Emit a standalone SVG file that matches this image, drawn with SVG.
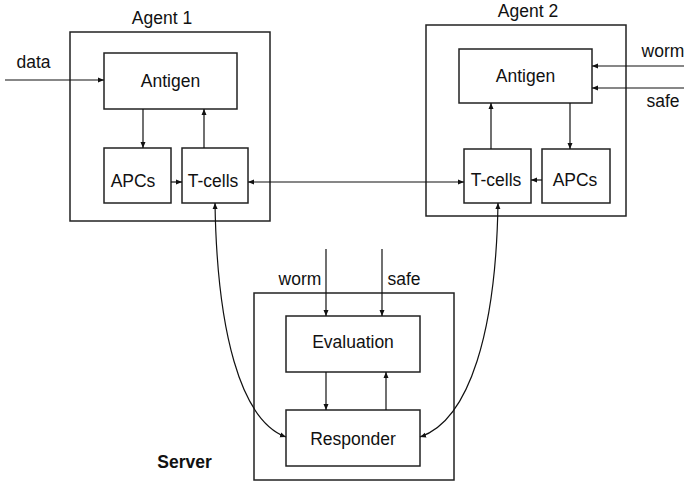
<svg xmlns="http://www.w3.org/2000/svg" width="684" height="482" viewBox="0 0 684 482">
<style>
.box{fill:#fff;stroke:#222;stroke-width:1.5}
.outer{fill:none;stroke:#222;stroke-width:1.5}
.t{font-family:"Liberation Sans",Arial,sans-serif;font-size:17.5px;fill:#111;text-anchor:middle}
.b{font-weight:bold}
.c{fill:none;stroke:#111;stroke-width:1.2}
</style>
<defs>
<marker id="ah" viewBox="0 0 6 6" refX="6" refY="3" markerWidth="6" markerHeight="6" markerUnits="userSpaceOnUse" orient="auto-start-reverse">
<path d="M0,0.5 L6,3 L0,5.5 Z" fill="#111"/>
</marker>
</defs>
<g id="agent1">
<rect class="outer" x="70" y="32" width="200" height="189"/>
<text class="t" x="162" y="24">Agent 1</text>
</g>
<g id="antigen1"><rect class="box" x="104" y="53" width="133" height="56"/><text class="t" x="170.5" y="87">Antigen</text></g>
<g id="apcs1"><rect class="box" x="104" y="148" width="67" height="55"/><text class="t" x="133" y="187">APCs</text></g>
<g id="tcells1"><rect class="box" x="182" y="148" width="66" height="55"/><text class="t" x="213" y="187">T-cells</text></g>
<g id="agent2">
<rect class="outer" x="426" y="25" width="200" height="191"/>
<text class="t" x="528" y="17">Agent 2</text>
</g>
<g id="antigen2"><rect class="box" x="459" y="49" width="133" height="54"/><text class="t" x="525.5" y="82">Antigen</text></g>
<g id="tcells2"><rect class="box" x="464" y="149" width="67" height="54"/><text class="t" x="496" y="186">T-cells</text></g>
<g id="apcs2"><rect class="box" x="542" y="149" width="68" height="54"/><text class="t" x="575" y="186">APCs</text></g>
<g id="server">
<rect class="outer" x="254" y="293" width="200" height="187"/>
<text class="t b" x="184.5" y="468">Server</text>
</g>
<g id="evaluation"><rect class="box" x="286" y="316" width="134" height="56"/><text class="t" x="353" y="348">Evaluation</text></g>
<g id="responder"><rect class="box" x="286" y="410" width="134" height="56"/><text class="t" x="353" y="445">Responder</text></g>
<g id="labels">
<text class="t" x="33.5" y="68">data</text>
<text class="t" x="663" y="57">worm</text>
<text class="t" x="663" y="107">safe</text>
<text class="t" x="300" y="285">worm</text>
<text class="t" x="404" y="285">safe</text>
</g>
<g id="connectors">
<path class="c" d="M5,80 H104" marker-end="url(#ah)"/>
<path class="c" d="M143,109 V148" marker-end="url(#ah)"/>
<path class="c" d="M204,148 V109" marker-end="url(#ah)"/>
<path class="c" d="M171,182 H182" marker-end="url(#ah)"/>
<path class="c" d="M248,182 H464" marker-start="url(#ah)" marker-end="url(#ah)"/>
<path class="c" d="M491,149 V103" marker-end="url(#ah)"/>
<path class="c" d="M570,103 V149" marker-end="url(#ah)"/>
<path class="c" d="M542,180 H531" marker-end="url(#ah)"/>
<path class="c" d="M684,66 H592" marker-end="url(#ah)"/>
<path class="c" d="M684,88 H592" marker-end="url(#ah)"/>
<path class="c" d="M326,249 V316" marker-end="url(#ah)"/>
<path class="c" d="M382,249 V316" marker-end="url(#ah)"/>
<path class="c" d="M326,372 V410" marker-end="url(#ah)"/>
<path class="c" d="M386,410 V372" marker-end="url(#ah)"/>
<path class="c" d="M215,203 C217,330 240,420 286,437" marker-start="url(#ah)" marker-end="url(#ah)"/>
<path class="c" d="M498,203 C496,330 470,420 420,437" marker-start="url(#ah)" marker-end="url(#ah)"/>
</g>
</svg>
